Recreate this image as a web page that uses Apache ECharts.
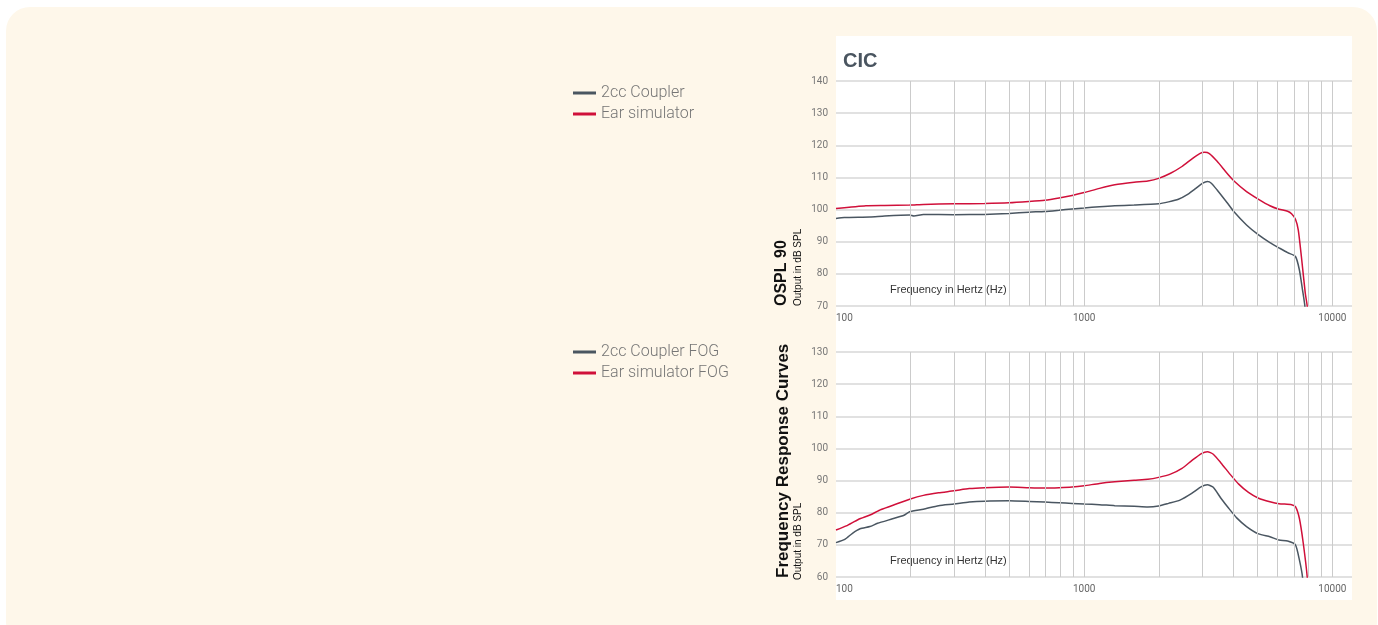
<!DOCTYPE html>
<html>
<head>
<meta charset="utf-8">
<script src="https://cdn.jsdelivr.net/npm/echarts@6/dist/echarts.min.js"></script>
<style>
  html, body { margin: 0; padding: 0; background: #fff; }
  #bg { position: absolute; left: 6px; top: 7px; width: 1371px; height: 640px; border-radius: 24px; background: #fef7ea; }
  #panel { position: absolute; left: 836px; top: 36px; width: 516px; height: 564px; background: #fff; }
  #main { position: absolute; left: 0; top: 0; width: 1378px; height: 625px; }
</style>
</head>
<body>
<div id="bg"></div>
<div id="panel"></div>
<div id="main"></div>
<script>
// vertical grid lines (log decades)
var minorFreqs = [200, 300, 400, 500, 600, 700, 800, 900, 1000, 2000, 3000, 4000, 5000, 6000, 7000, 8000, 9000, 10000];

// OSPL 90
var osplCouplerFreq = [100, 108, 137, 157, 198, 206, 225, 299, 397, 498, 599, 694, 792, 894, 1000, 1153, 1328, 1590, 1995, 2188, 2396, 2623, 2818, 3005, 3138, 3253, 3433, 3762, 4016, 4510, 5043, 5603, 6094, 6602, 7102, 7366, 7581, 7749, 7900];
var osplCoupler     = [97.2, 97.5, 97.7, 98.0, 98.3, 98.0, 98.5, 98.4, 98.5, 98.8, 99.2, 99.4, 99.8, 100.2, 100.5, 100.9, 101.2, 101.4, 101.8, 102.4, 103.2, 104.8, 106.6, 108.2, 108.7, 108.2, 106.1, 102.2, 99.3, 95.2, 92.1, 89.7, 88.1, 86.6, 85.4, 81.2, 75.0, 70.0, 60];
var osplEarFreq = [100, 132, 157, 198, 225, 299, 397, 498, 599, 694, 792, 894, 1000, 1153, 1328, 1590, 1805, 1995, 2228, 2478, 2712, 2920, 3059, 3195, 3433, 3762, 4016, 4510, 5043, 5603, 6094, 6602, 6848, 7102, 7288, 7503, 7778, 7920, 8050];
var osplEar     = [100.3, 101.2, 101.3, 101.4, 101.6, 101.8, 101.9, 102.1, 102.5, 102.9, 103.6, 104.4, 105.3, 106.6, 107.7, 108.5, 108.9, 109.7, 111.3, 113.4, 115.7, 117.4, 117.8, 117.4, 115.0, 111.3, 108.9, 105.6, 103.2, 101.2, 100.1, 99.5, 98.7, 97.0, 93.7, 85.4, 74.0, 70.0, 60];

// Frequency response (FOG)
var fogCouplerFreq = [100, 108.5, 116.5, 125, 137, 147, 169, 188, 198, 225, 259, 299, 344, 397, 498, 599, 694, 792, 894, 1000, 1153, 1328, 1590, 1805, 1995, 2188, 2432, 2712, 2967, 3138, 3313, 3557, 3830, 4117, 4510, 5043, 5603, 6094, 6602, 7102, 7366, 7581, 7750];
var fogCoupler     = [70.7, 71.7, 73.6, 75.0, 75.7, 76.7, 78.1, 79.2, 80.3, 81.1, 82.2, 82.7, 83.3, 83.6, 83.7, 83.5, 83.3, 83.1, 82.9, 82.7, 82.5, 82.2, 82.0, 81.8, 82.1, 82.9, 83.9, 86.0, 88.1, 88.7, 87.9, 84.5, 81.3, 78.4, 75.7, 73.4, 72.5, 71.5, 71.2, 70.0, 65.3, 60.0, 50];
var fogEarFreq = [100, 110, 123, 137, 152, 175, 198, 225, 259, 299, 344, 397, 498, 599, 694, 792, 894, 1000, 1153, 1328, 1590, 1805, 1995, 2228, 2478, 2712, 2967, 3138, 3313, 3557, 3899, 4195, 4592, 5043, 5603, 6094, 6848, 7102, 7366, 7635, 7920, 8050];
var fogEar     = [74.6, 75.9, 77.9, 79.3, 81.0, 82.7, 84.2, 85.4, 86.2, 86.8, 87.5, 87.8, 88.0, 87.8, 87.7, 87.8, 88.0, 88.4, 89.1, 89.6, 90.1, 90.4, 91.0, 92.0, 93.8, 96.2, 98.4, 99.0, 98.2, 95.5, 91.7, 88.9, 86.3, 84.5, 83.4, 82.8, 82.5, 81.9, 78.2, 70.5, 60.0, 50];

var COUPLER = '#4a5661';
var EAR = '#d0103a';

function pairs(xs, ys) {
  return xs.map(function (x, i) { return [x, ys[i]]; });
}

function xAxisOpt(idx) {
  return {
    gridIndex: idx, type: 'log', logBase: 10, min: 100, max: 12000,
    axisLine: { show: false }, axisTick: { show: false }, splitLine: { show: false },
    axisLabel: { color: '#666', fontSize: 10, margin: 7, showMaxLabel: false, alignMinLabel: 'left',
      fontFamily: 'Roboto', formatter: function (v) { return String(v); } }
  };
}
function yAxisOpt(idx, min, max) {
  return {
    gridIndex: idx, type: 'value', min: min, max: max, interval: 10,
    axisLine: { show: false }, axisTick: { show: false },
    splitLine: { lineStyle: { color: '#e1e1e1', width: 2 } },
    axisLabel: { color: '#777', fontSize: 10, margin: 8, fontFamily: 'Roboto' }
  };
}
function gridLines(idx) {
  return {
    type: 'line', xAxisIndex: idx, yAxisIndex: idx, data: [], z: 1, silent: true,
    markLine: {
      silent: true, symbol: ['none', 'none'], animation: false,
      label: { show: false },
      lineStyle: { color: '#cbcbcb', width: 1, type: 'solid' },
      data: minorFreqs.map(function (f) { return { xAxis: f }; })
    }
  };
}
function curve(name, idx, color, data) {
  return {
    name: name, type: 'line', xAxisIndex: idx, yAxisIndex: idx, z: 3,
    showSymbol: false, smooth: 0.2, clip: true, animation: false,
    lineStyle: { color: color, width: 1.5 }, itemStyle: { color: color },
    data: data
  };
}
function vText(x, y, text, size, weight) {
  return {
    type: 'text', x: x, y: y, rotation: Math.PI / 2,
    style: { text: text, fill: '#111', fontSize: size, fontWeight: weight,
      fontFamily: 'Liberation Sans, Arial, sans-serif', align: 'left', verticalAlign: 'middle' }
  };
}
function legendOpt(names, top) {
  return {
    data: names, left: 573, top: top, orient: 'vertical', padding: 0,
    icon: 'rect', itemWidth: 23, itemHeight: 3, itemGap: 5,
    textStyle: { color: '#767676', fontSize: 16, fontWeight: 300, fontFamily: 'Roboto' }
  };
}

var chart = echarts.init(document.getElementById('main'));
chart.setOption({
  animation: false,
  grid: [
    { left: 836, top: 81, width: 516, height: 225 },
    { left: 836, top: 352, width: 516, height: 225 }
  ],
  xAxis: [xAxisOpt(0), xAxisOpt(1)],
  yAxis: [yAxisOpt(0, 70, 140), yAxisOpt(1, 60, 130)],
  legend: [
    legendOpt(['2cc Coupler', 'Ear simulator'], 85),
    legendOpt(['2cc Coupler FOG', 'Ear simulator FOG'], 344)
  ],
  graphic: [
    { type: 'text', x: 843, y: 61, style: { text: 'CIC', fill: '#4a5560', fontSize: 20, fontWeight: 'bold',
      fontFamily: 'Liberation Sans, Arial, sans-serif', verticalAlign: 'middle' } },
    { type: 'text', x: 890, y: 290, style: { text: 'Frequency in Hertz (Hz)', fill: '#333', fontSize: 11,
      fontFamily: 'Liberation Sans, Arial, sans-serif', verticalAlign: 'middle' } },
    { type: 'text', x: 890, y: 561, style: { text: 'Frequency in Hertz (Hz)', fill: '#333', fontSize: 11,
      fontFamily: 'Liberation Sans, Arial, sans-serif', verticalAlign: 'middle' } },
    vText(782, 306, 'OSPL 90', 16, 'bold'),
    vText(798, 306, 'Output in dB SPL', 10, 'normal'),
    vText(783, 578, 'Frequency Response Curves', 17, 'bold'),
    vText(798, 580, 'Output in dB SPL', 10, 'normal')
  ],
  series: [
    gridLines(0),
    gridLines(1),
    curve('2cc Coupler', 0, COUPLER, pairs(osplCouplerFreq, osplCoupler)),
    curve('Ear simulator', 0, EAR, pairs(osplEarFreq, osplEar)),
    curve('2cc Coupler FOG', 1, COUPLER, pairs(fogCouplerFreq, fogCoupler)),
    curve('Ear simulator FOG', 1, EAR, pairs(fogEarFreq, fogEar))
  ]
});
</script>
</body>
</html>
